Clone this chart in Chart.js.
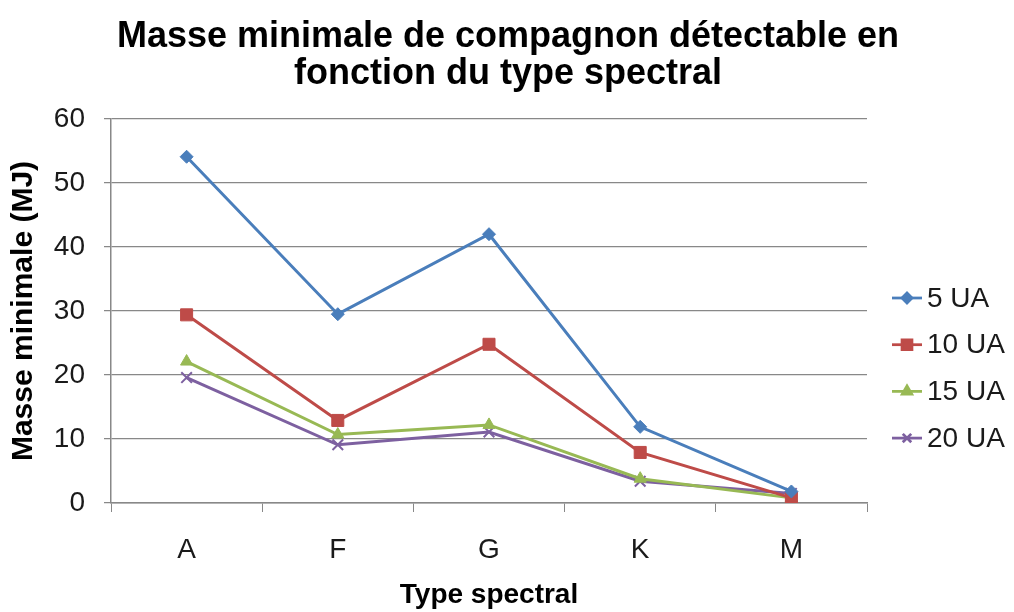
<!DOCTYPE html>
<html>
<head>
<meta charset="utf-8">
<title>Masse minimale de compagnon détectable</title>
<script src="https://cdn.jsdelivr.net/npm/chart.js@4/dist/chart.umd.min.js"></script>
<style>
  html, body { margin: 0; padding: 0; background: #fff; }
  #wrap { width: 1014px; height: 612px; }
</style>
</head>
<body>
<div id="wrap"><canvas id="chart" width="1014" height="612"></canvas></div>
<script>
// spectral types on the x axis
const TYPES = ["A", "F", "G", "K", "M"];
const Y_TICKS = [0, 10, 20, 30, 40, 50, 60];
const TITLE = ["Masse minimale de compagnon détectable en", "fonction du type spectral"];

// minimal detectable mass (MJ) for each separation
const UA_5 = [54.1, 29.5, 42.0, 11.9, 1.8];
const UA_10 = [29.4, 12.9, 24.8, 7.9, 0.8];
const UA_15 = [22.1, 10.7, 12.2, 3.8, 0.8];
const UA_20 = [19.6, 9.1, 11.1, 3.4, 1.5];

const FONT = "'Liberation Sans', Arial, Helvetica, sans-serif";
const GRID = "#888888";
const TEXT = "#1a1a1a";

const series = [
  { label: "5 UA", data: UA_5, color: "#4a7ebb", style: "rectRot", r: 6.5 },
  { label: "10 UA", data: UA_10, color: "#be4b48", style: "rect", r: 8.5 },
  { label: "15 UA", data: UA_15, color: "#98b954", style: "triangle", r: 7 },
  { label: "20 UA", data: UA_20, color: "#7d60a0", style: "crossRot", r: 7.5 },
];

// title centred on the whole canvas + legend on the right
const decorations = {
  id: "decorations",
  afterDraw(chart) {
    const { ctx, width } = chart;
    ctx.save();

    ctx.fillStyle = "#000";
    ctx.font = "bold 36px " + FONT;
    ctx.textAlign = "center";
    ctx.textBaseline = "middle";
    TITLE.forEach((line, i) => ctx.fillText(line, width / 2 + 1, 37 + i * 37));

    const x0 = 892, x1 = 922, top = 298, step = 46.7;
    chart.data.datasets.forEach((ds, i) => {
      const y = top + i * step;
      ctx.strokeStyle = ds.borderColor;
      ctx.lineWidth = 2.75;
      ctx.beginPath();
      ctx.moveTo(x0, y);
      ctx.lineTo(x1, y);
      ctx.stroke();
      ctx.fillStyle = ds.backgroundColor;
      Chart.helpers.drawPoint(ctx, {
        pointStyle: ds.pointStyle,
        radius: ds.pointRadius - 1.5,
        borderWidth: ds.pointStyle === "crossRot" ? 1.5 : 1,
        rotation: 0,
      }, (x0 + x1) / 2, y);
      ctx.fillStyle = TEXT;
      ctx.font = "28px " + FONT;
      ctx.textAlign = "left";
      ctx.textBaseline = "middle";
      ctx.fillText(ds.label, x1 + 5, y + 1);
    });
    ctx.restore();
  },
};

new Chart(document.getElementById("chart"), {
  type: "line",
  data: {
    labels: TYPES,
    datasets: series.map(s => ({
      label: s.label,
      data: s.data,
      borderColor: s.color,
      backgroundColor: s.color,
      borderWidth: 3,
      pointStyle: s.style,
      pointRadius: s.r,
      pointBorderWidth: s.style === "crossRot" ? 2 : 1,
      pointBackgroundColor: s.color,
      pointBorderColor: s.color,
      tension: 0,
    })),
  },
  options: {
    responsive: false,
    animation: false,
    layout: { padding: { left: 0, right: 147, top: 119, bottom: 0 } },
    plugins: {
      legend: { display: false },
      tooltip: { enabled: false },
      title: { display: false },
    },
    scales: {
      x: {
        offset: true,
        afterFit: s => { s.height = 109; },
        grid: { offset: true, drawOnChartArea: false, color: GRID, tickLength: 9, lineWidth: 1 },
        border: { color: GRID, width: 1.5 },
        ticks: { color: TEXT, font: { family: FONT, size: 28 }, padding: 21 },
        title: {
          display: true,
          text: "Type spectral",
          color: "#000",
          font: { family: FONT, size: 28, weight: "bold" },
          padding: { top: 0, bottom: 0 },
        },
      },
      y: {
        min: Y_TICKS[0],
        max: Y_TICKS[Y_TICKS.length - 1],
        afterFit: s => { s.width = 111; },
        afterBuildTicks: s => { s.ticks = Y_TICKS.map(v => ({ value: v })); },
        grid: { color: GRID, tickLength: 7, lineWidth: 1.25 },
        border: { color: GRID, width: 1.5 },
        ticks: { color: TEXT, font: { family: FONT, size: 28 }, padding: 19 },
        title: {
          display: true,
          text: "Masse minimale (MJ)",
          color: "#000",
          font: { family: FONT, size: 30, weight: "bold" },
          padding: { top: 6, bottom: 0 },
        },
      },
    },
  },
  plugins: [decorations],
});
</script>
</body>
</html>
